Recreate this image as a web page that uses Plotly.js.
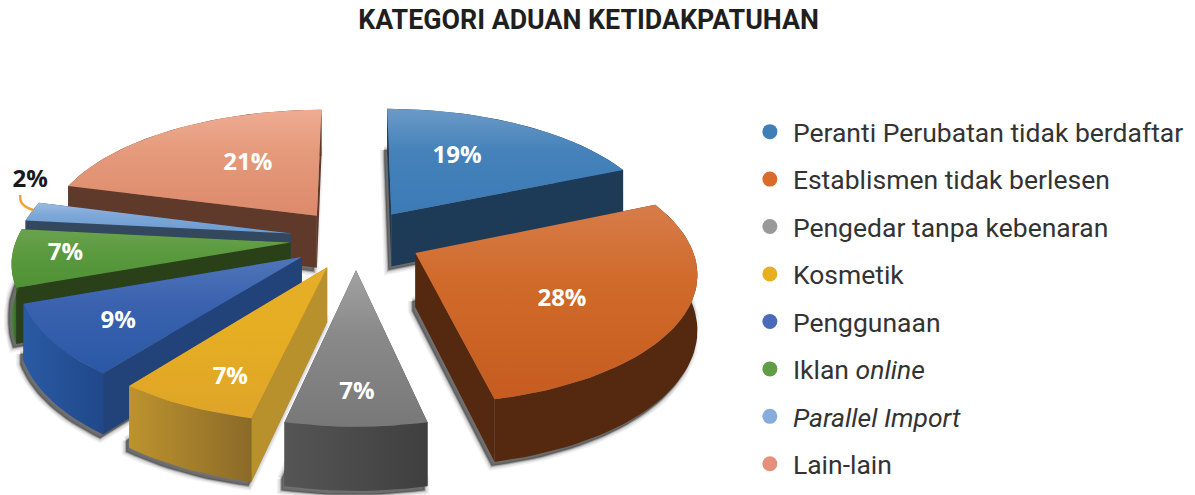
<!DOCTYPE html>
<html><head><meta charset="utf-8">
<script src="https://cdn.plot.ly/plotly-3.0.1.min.js"></script>
<style>html,body{margin:0;padding:0;background:#fff}#c{width:1195px;height:495px}</style>
</head><body><div id="c"></div>
<script>
// ---- data ----
const categories = ['Peranti Perubatan tidak berdaftar','Establismen tidak berlesen','Pengedar tanpa kebenaran','Kosmetik','Penggunaan','Iklan <i>online</i>','<i>Parallel Import</i>','Lain-lain'];
const shares = [18.6,27.9,7.0,7.0,9.0,7.2,2.4,20.9];
const chartTitle = 'KATEGORI ADUAN KETIDAKPATUHAN';

// ---- styles ----
const legendColors = ['#3f7fb8','#d96b2b','#999999','#e8ae20','#4a6cb8','#5f9e45','#86acdb','#e3917a'];
const topLight = ['#6b9ac7','#d67c4a','#a2a2a2','#e6ad2a','#5075b8','#6aa34f','#98badf','#eeac92'];
const topMid   = ['#4582bb','#d06a2a','#8a8a8a','#e6ae22','#3a62ae','#5b9a3f','#7ea7d8','#e59a7c'];
const topDark  = ['#3c7ab6','#c65c20','#787878','#dfa428','#2a58a5','#4f9136','#6c9bd1','#dc8a6a'];
const radialWall = ['#1d3a57','#55290f','#444444','#b8902c','#22427a','#2a4019','#33475f','#5f3a2a'];
const arcLeft  = ['#1d3a57','#55290f','#555555','#bd932e','#2a5aa4','#4a8a35','#33475f','#5f3a2a'];
const arcRight = ['#1d3a57','#55290f','#3f3f3f','#8b6a28','#20488a','#2a4019','#33475f','#5f3a2a'];
const labelColors = ['#fff','#fff','#fff','#fff','#fff','#fff','#1a1a1a','#fff'];
// label placement in the pie plane: radius and angle offset from the slice bisector
const labelRadius = [0.58,0.60,0.81,0.80,0.76,0.81,1.125,0.54];
const labelTurn   = [-5.5,7.7,-0.2,-3.4,-1.5,0.8,13,6];
const drawOrder = [0,7,6,5,4,1,3,2];

// ---- projection of the exploded pie ----
const CX=356, CY=239, RX=274, RY=126, PERSP=0.135, DEPTH=53.5, EXPLODE=0.24;
const proj=(x,y,z)=>{const d=1-PERSP*y;return [CX+RX*x/d, CY+RY*y/d+z*DEPTH/d];};
const rad=a=>a*Math.PI/180;
const total=shares.reduce((a,b)=>a+b,0);
let cum=0;
const slices=shares.map(v=>{const a0=cum/total*360;cum+=v;return {a0,a1:cum/total*360};});

function plane(s,r,a){const m=rad((s.a0+s.a1)/2);return [EXPLODE*Math.sin(m)+r*Math.sin(rad(a)),-EXPLODE*Math.cos(m)-r*Math.cos(rad(a))];}
function arcAngles(s){const n=Math.max(4,Math.ceil((s.a1-s.a0)/2));const o=[];for(let i=0;i<=n;i++)o.push(s.a0+(s.a1-s.a0)*i/n);return o;}
function poly(pts,extra){const xs=pts.map(p=>p[0]).concat(pts[0][0]);const ys=pts.map(p=>p[1]).concat(pts[0][1]);
  return Object.assign({x:xs,y:ys,type:'scatter',mode:'lines',line:{width:0},fill:'toself',hoverinfo:'skip',showlegend:false},extra);}
function hull(pts){const p=pts.slice().sort((a,b)=>a[0]-b[0]||a[1]-b[1]);const cr=(o,a,b)=>(a[0]-o[0])*(b[1]-o[1])-(a[1]-o[1])*(b[0]-o[0]);
  const lo=[];for(const q of p){while(lo.length>1&&cr(lo[lo.length-2],lo[lo.length-1],q)<=0)lo.pop();lo.push(q);}
  const up=[];for(const q of p.slice().reverse()){while(up.length>1&&cr(up[up.length-2],up[up.length-1],q)<=0)up.pop();up.push(q);}
  return lo.slice(0,-1).concat(up.slice(0,-1));}

const traces=[];
for(const i of drawOrder){
  const s=slices[i], angs=arcAngles(s);
  const apex=plane(s,0,0);
  const rim=angs.map(a=>plane(s,1,a));
  const top=[apex,...rim].map(p=>proj(p[0],p[1],0));
  // soft shadow: only the lower part of the slice casts one
  const low=[apex,...rim].map(p=>proj(p[0],p[1],0.85)).concat([apex,...rim].map(p=>proj(p[0],p[1],1.03)));
  const h=hull(low).map(p=>[p[0]-3,p[1]+2]);
  [[9,0.05],[6,0.08],[3,0.14],[1.5,0.2]].forEach(([w,o])=>traces.push(poly(h,{line:{width:w,color:'#000'},fillcolor:'rgba(0,0,0,0)',opacity:o})));
  traces.push(poly(h,{fillcolor:'rgba(70,70,70,0.75)'}));
  // walls, back ones first
  const wallA=[proj(apex[0],apex[1],0),proj(rim[0][0],rim[0][1],0),proj(rim[0][0],rim[0][1],1),proj(apex[0],apex[1],1)];
  const last=rim[rim.length-1];
  const wallB=[proj(apex[0],apex[1],0),proj(last[0],last[1],0),proj(last[0],last[1],1),proj(apex[0],apex[1],1)];
  const arcTop=rim.map(p=>proj(p[0],p[1],0)), arcBot=rim.map(p=>proj(p[0],p[1],1)).reverse();
  traces.push(poly(wallA,{fillcolor:radialWall[i]}));
  traces.push(poly(wallB,{fillcolor:radialWall[i]}));
  const l=arcLeft[i], r=arcRight[i];
  traces.push(poly(arcTop.concat(arcBot),{fillcolor:r,fillgradient:{type:'horizontal',colorscale:[[0,l],[1,r]]}}));
  traces.push(poly(top,{fillcolor:topDark[i],fillgradient:{type:'vertical',colorscale:[[0,topDark[i]],[0.6,topMid[i]],[1,topLight[i]]]}}));
}
// percentage labels
const lp=slices.map((s,i)=>{const m=(s.a0+s.a1)/2+labelTurn[i];const p=plane(s,labelRadius[i],m);return proj(p[0],p[1],0);});
traces.push({x:lp.map(p=>p[0]),y:lp.map(p=>p[1]),type:'scatter',mode:'text',text:shares.map(v=>Math.round(v)+'%'),
  textposition:'middle center',textfont:{family:'"Open Sans",sans-serif',size:24,weight:700,color:labelColors},hoverinfo:'skip',showlegend:false});
// leader of the small slice's label
const p2=lp[6];
traces.push({x:[p2[0]-10,p2[0]-9,p2[0]-4,p2[0]+3],y:[p2[1]+14,p2[1]+21,p2[1]+26,p2[1]+29],type:'scatter',mode:'lines',
  line:{color:'#f5a030',width:2.5,shape:'spline'},hoverinfo:'skip',showlegend:false});
// legend
categories.forEach((c,i)=>traces.push({x:[null],y:[null],type:'scatter',mode:'markers',name:c,legendgroup:'g'+i,
  marker:{size:15,color:legendColors[i],symbol:'circle'},hoverinfo:'skip'}));

const layout={width:1195,height:495,margin:{l:0,r:0,t:0,b:0},paper_bgcolor:'#fff',plot_bgcolor:'#fff',
  title:{text:'<b>'+chartTitle+'</b>',x:0.4925,xanchor:'center',y:0.96,yanchor:'middle',yref:'container',font:{family:'Roboto',size:26.8,color:'#1f1f1f'}},
  xaxis:{range:[0,1195],visible:false},
  yaxis:{range:[495,0],visible:false},
  showlegend:true,
  legend:{x:0.625,xanchor:'left',y:0.782,yanchor:'top',tracegroupgap:10,itemwidth:36,itemsizing:'trace',bgcolor:'rgba(0,0,0,0)',font:{family:'Roboto',size:26.5,color:'#333'}}
};
Plotly.newPlot('c',traces,layout,{displayModeBar:false,staticPlot:true});
</script></body></html>
